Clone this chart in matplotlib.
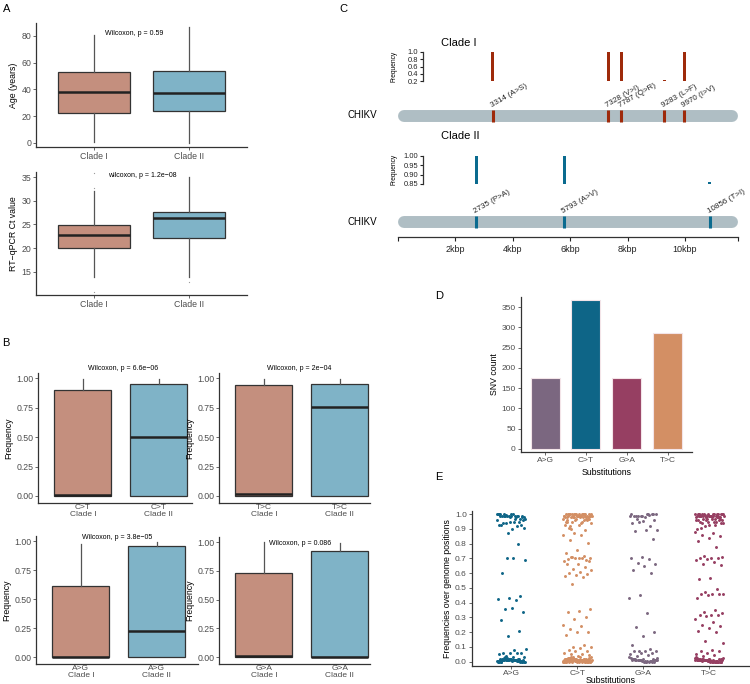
import matplotlib.pyplot as plt
import numpy as np

plt.rcParams['font.family'] = ['Liberation Sans', 'DejaVu Sans']

# ---------------- data ----------------
clades = ['Clade I', 'Clade II']
clade_colors = ['#c48f7e', '#7fb3c7']

# box stats: whisker low, q1, median, q3, whisker high
age_c1 = [0.5, 22.2, 38.3, 52.8, 80.6]
age_c2 = [0.0, 24.1, 37.3, 53.7, 87.0]
ct_c1 = [13.8, 20.0, 22.8, 24.8, 32.1]
ct_c2 = [13.8, 22.2, 26.4, 27.7, 35.0]
ct_c1_out = [35.8, 32.8, 10.8]
ct_c2_out = [12.8]

ct_sub_c1 = [0.0, 0.0, 0.01, 0.90, 0.99]
ct_sub_c2 = [0.0, 0.0, 0.50, 0.95, 0.99]
tc_sub_c1 = [0.0, 0.0, 0.015, 0.94, 0.99]
tc_sub_c2 = [0.0, 0.0, 0.755, 0.95, 0.99]
ag_sub_c1 = [0.0, 0.0, 0.0, 0.61, 0.98]
ag_sub_c2 = [0.0, 0.0, 0.225, 0.96, 0.99]
ga_sub_c1 = [0.0, 0.0, 0.01, 0.73, 1.0]
ga_sub_c2 = [0.0, 0.0, 0.005, 0.925, 0.99]

# genome (panel C)
genome_len = 11826
c1_pos = [3314, 7328, 7787, 9283, 9970]
c1_freq = [1.0, 1.0, 1.0, 0.22, 1.0]
c1_lab = ['3314 (A>S)', '7328 (V>I)', '7787 (Q>R)', '9283 (L>F)', '9970 (I>V)']
c2_pos = [2735, 5793, 10856]
c2_freq = [1.0, 1.0, 0.86]
c2_lab = ['2735 (P>A)', '5793 (A>V)', '10856 (T>I)']

# panel D
subs = ['A>G', 'C>T', 'G>A', 'T>C']
snv_count = [176, 367, 176, 285]
d_colors = ['#7b6780', '#0e6587', '#963f62', '#d38f64']
e_colors = ['#0e6587', '#d38f64', '#7b6780', '#963f62']

# panel E
ag_freq = [
    1.00, 0.99, 1.00, 0.99, 0.98, 1.00, 0.99, 0.995, 0.98, 1.00,
    0.99, 0.97, 0.99, 1.00, 0.98, 0.99, 0.96, 0.99, 1.00, 0.985,
    0.99, 0.97, 0.95, 0.94, 0.93, 0.945, 0.93, 0.92, 0.94, 0.91,
    0.90, 0.93, 0.95, 0.875, 0.96, 0.97, 0.99, 0.98, 1.00, 0.99,
    0.795, 0.705, 0.69, 0.70, 0.60, 0.445, 0.435, 0.425, 0.42, 0.36,
    0.34, 0.365, 0.28, 0.205, 0.175,
    0.087, 0.08, 0.06, 0.06, 0.062, 0.05, 0.058, 0.04, 0.035, 0.03,
    0.01, 0.00, 0.02, 0.005, 0.01, 0.015, 0.00, 0.02, 0.01, 0.005,
    0.025, 0.00, 0.01, 0.015, 0.005, 0.02, 0.00, 0.01, 0.03, 0.005,
    0.01, 0.00, 0.02, 0.015, 0.005, 0.01, 0.025, 0.00, 0.01, 0.02,
    0.005, 0.015, 0.00, 0.01, 0.02, 0.005, 0.01, 0.00, 0.015, 0.025,
    0.01, 0.005, 0.00, 0.02, 0.01,
]
ct_freq = [
    1.00, 0.99, 1.00, 0.98, 0.99, 1.00, 0.97, 0.99, 1.00, 0.98,
    0.99, 1.00, 0.96, 0.99, 1.00, 0.98, 0.99, 0.97, 1.00, 0.99,
    0.95, 0.98, 1.00, 0.99, 0.96, 1.00, 0.98, 0.99, 0.94, 1.00,
    0.99, 0.97, 0.98, 1.00, 0.95, 0.99, 0.93, 1.00, 0.98, 0.96,
    0.99, 1.00, 0.92, 0.97, 0.99, 0.95, 1.00, 0.98, 0.94, 0.99,
    0.91, 0.96, 1.00, 0.93, 0.98, 0.90, 0.97, 0.99, 0.95, 0.89,
    0.875, 0.86, 0.86, 0.825, 0.805,
    0.76, 0.735, 0.72, 0.71, 0.70, 0.70, 0.695, 0.69, 0.70, 0.685,
    0.705, 0.71, 0.68, 0.665, 0.66, 0.64, 0.63, 0.62, 0.61, 0.60,
    0.595, 0.59, 0.58, 0.575, 0.525,
    0.355, 0.345, 0.335, 0.30, 0.29, 0.25, 0.24, 0.225, 0.20, 0.20, 0.18,
    0.11, 0.10, 0.10, 0.09, 0.08, 0.075, 0.07, 0.06, 0.055, 0.05, 0.045, 0.04,
    0.01, 0.00, 0.02, 0.005, 0.01, 0.015, 0.00, 0.02, 0.01, 0.005,
    0.025, 0.00, 0.01, 0.015, 0.005, 0.02, 0.00, 0.01, 0.03, 0.005,
    0.01, 0.00, 0.02, 0.015, 0.005, 0.01, 0.025, 0.00, 0.01, 0.02,
    0.005, 0.015, 0.00, 0.01, 0.02, 0.005, 0.01, 0.00, 0.015, 0.025,
    0.01, 0.005, 0.00, 0.02, 0.01, 0.035, 0.00, 0.01, 0.02, 0.005,
    0.015, 0.00, 0.01, 0.025, 0.005, 0.02, 0.00, 0.01, 0.015, 0.03,
    0.00, 0.01, 0.005, 0.02, 0.01, 0.00, 0.015, 0.005, 0.025, 0.01,
    0.02, 0.00, 0.01, 0.005, 0.015, 0.00, 0.02, 0.01, 0.03, 0.005,
]
ga_freq = [
    1.00, 0.99, 1.00, 0.99, 1.00, 0.995, 0.99, 1.00, 0.98, 0.99,
    1.00, 0.99, 0.985, 1.00, 0.97, 0.96, 0.955, 0.94, 0.92, 0.95,
    0.89, 0.89, 0.885, 0.83,
    0.71, 0.70, 0.695, 0.67, 0.665, 0.65, 0.62, 0.60, 0.455, 0.435,
    0.33, 0.235, 0.20, 0.175, 0.11,
    0.085, 0.075, 0.075, 0.07, 0.07, 0.06, 0.06, 0.05, 0.045, 0.04,
    0.01, 0.00, 0.02, 0.005, 0.01, 0.015, 0.00, 0.02, 0.01, 0.005,
    0.025, 0.00, 0.01, 0.015, 0.005, 0.02, 0.00, 0.01, 0.03, 0.005,
    0.01, 0.00, 0.02, 0.015, 0.005, 0.01, 0.025, 0.00, 0.01, 0.02,
]
tc_freq = [
    1.00, 0.99, 1.00, 0.99, 0.98, 1.00, 0.99, 1.00, 0.98, 0.99,
    1.00, 0.99, 0.995, 1.00, 0.98, 0.99, 1.00, 0.99, 0.98, 1.00,
    0.99, 1.00, 0.985, 0.99, 1.00, 0.98, 0.99, 1.00, 0.99, 0.98,
    1.00, 0.99, 0.97, 1.00, 0.96, 0.99, 0.95, 0.98, 0.97, 0.96,
    0.95, 0.94, 0.97, 0.93, 0.96, 0.95, 0.92, 0.94, 0.97, 0.91,
    0.96, 0.95, 0.90, 0.93, 0.97, 0.94, 0.99, 1.00, 0.98, 0.96,
    0.88, 0.87, 0.86, 0.85, 0.84, 0.82, 0.78,
    0.715, 0.71, 0.70, 0.70, 0.70, 0.695, 0.69, 0.675, 0.665, 0.655,
    0.565, 0.56, 0.49, 0.475, 0.46, 0.46, 0.46, 0.46, 0.455, 0.435,
    0.35, 0.34, 0.33, 0.32, 0.32, 0.315, 0.31, 0.29, 0.27, 0.25,
    0.24, 0.23, 0.21, 0.20, 0.14, 0.13,
    0.08, 0.075, 0.07, 0.06, 0.05, 0.045, 0.04,
    0.01, 0.00, 0.02, 0.005, 0.01, 0.015, 0.00, 0.02, 0.01, 0.005,
    0.025, 0.00, 0.01, 0.015, 0.005, 0.02, 0.00, 0.01, 0.03, 0.005,
    0.01, 0.00, 0.02, 0.015, 0.005, 0.01, 0.025, 0.00, 0.01, 0.02,
    0.005, 0.015, 0.00, 0.01, 0.02, 0.005, 0.01, 0.00, 0.015, 0.025,
    0.01, 0.005, 0.00, 0.02, 0.01, 0.00, 0.01, 0.02, 0.005, 0.015,
    0.00, 0.01, 0.025, 0.005, 0.02, 0.00, 0.01, 0.015, 0.005, 0.01,
]

# ---------------- figure ----------------
W, H = 750, 684
fig = plt.figure(figsize=(W / 100, H / 100), dpi=100)

TICK = '#4d4d4d'
SPINE = '#333333'


def add_ax(l, t, r, b):
    # axes box given in pixel coords of the reference (top-left origin)
    return fig.add_axes([l / W, 1 - b / H, (r - l) / W, (b - t) / H])


def style(ax, size=6.3):
    for s in ['top', 'right']:
        ax.spines[s].set_visible(False)
    for s in ['left', 'bottom']:
        ax.spines[s].set_color(SPINE)
        ax.spines[s].set_linewidth(0.9)
    ax.tick_params(colors=TICK, labelsize=size, length=2, width=0.6, pad=1.5)


def boxes(ax, stats, fliers=None):
    fliers = fliers or [[], []]
    st = [dict(whislo=s[0], q1=s[1], med=s[2], q3=s[3], whishi=s[4], fliers=f)
          for s, f in zip(stats, fliers)]
    bp = ax.bxp(st, positions=[1, 2], widths=0.75, patch_artist=True, showcaps=False,
                boxprops=dict(edgecolor=SPINE, linewidth=0.9),
                medianprops=dict(color='#222222', linewidth=1.8),
                whiskerprops=dict(color='#555555', linewidth=0.9),
                flierprops=dict(marker='o', markersize=0.9, markerfacecolor='#999999',
                                markeredgecolor='none'))
    for patch, c in zip(bp['boxes'], clade_colors):
        patch.set_facecolor(c)


def panel_label(x, y, s):
    fig.text(x / W, 1 - y / H, s, fontsize=8, va='top', ha='left')


# ---- panel A ----
axA1 = add_ax(36, 23, 247, 147)
boxes(axA1, [age_c1, age_c2])
axA1.set_xlim(0.4, 2.6)
axA1.set_ylim(-3.0, 89.7)
axA1.set_yticks([0, 20, 40, 60, 80])
axA1.set_xticks([1, 2], clades)
axA1.set_ylabel('Age (years)', fontsize=6.3, labelpad=2)
style(axA1)
axA1.text(1.12, 81.5, 'Wilcoxon, p = 0.59', fontsize=5, va='center')

axA2 = add_ax(36, 172, 247, 295)
boxes(axA2, [ct_c1, ct_c2], [ct_c1_out, ct_c2_out])
axA2.set_xlim(0.4, 2.6)
axA2.set_ylim(10.07, 36.1)
axA2.set_yticks([15, 20, 25, 30, 35])
axA2.set_xticks([1, 2], clades)
axA2.set_ylabel('RT\u2212qPCR Ct value', fontsize=6.3, labelpad=2)
style(axA2)
axA2.text(1.15, 35.3, 'wilcoxon, p = 1.2e\u221208', fontsize=5, va='center')

# ---- panel B ----
b_panels = [
    ((38, 373, 192, 503), 'C>T', ct_sub_c1, ct_sub_c2, 'Wilcoxon, p = 6.6e\u221206', 1.07, 1.08),
    ((219, 373, 370, 503), 'T>C', tc_sub_c1, tc_sub_c2, 'Wilcoxon, p = 2e\u221204', 1.04, 1.08),
    ((36, 536, 198, 664), 'A>G', ag_sub_c1, ag_sub_c2, 'Wilcoxon, p = 3.8e\u221205', 1.01, 1.03),
    ((219, 537, 370, 664), 'G>A', ga_sub_c1, ga_sub_c2, 'Wilcoxon, p = 0.086', 1.07, 0.99),
]
for box, sub, s1, s2, ptxt, tx, ty in b_panels:
    ax = add_ax(*box)
    boxes(ax, [s1, s2])
    ax.set_xlim(0.41, 0.41 + (box[2] - box[0]) / 76)
    ax.set_ylim(-0.06, 1.045)
    ax.set_yticks([0, 0.25, 0.5, 0.75, 1.0], ['0.00', '0.25', '0.50', '0.75', '1.00'])
    ax.set_xticks([1, 2], [sub + '\n' + c for c in clades])
    ax.set_ylabel('Frequency', fontsize=6.3, labelpad=2)
    style(ax)
    ax.tick_params(axis='x', pad=0.5, length=0, labelsize=6)
    for lab in ax.get_xticklabels():
        lab.set_linespacing(1.02)
    ax.text(tx, ty, ptxt, fontsize=5, va='center', clip_on=False)

# ---- panel C ----
px0, px1 = 397.5, 737.5
bp_per_px = genome_len / (px1 - px0)

axG = add_ax(px0, 100, px1, 237)
axG.set_xlim(0, genome_len)
axG.set_ylim(237, 100)
for s in ['top', 'right', 'left']:
    axG.spines[s].set_visible(False)
axG.spines['bottom'].set_color(SPINE)
axG.spines['bottom'].set_linewidth(0.9)
axG.set_yticks([])
axG.set_xticks([0, 2000, 4000, 6000, 8000, 10000, genome_len],
               ['', '2kbp', '4kbp', '6kbp', '8kbp', '10kbp', ''])
axG.tick_params(axis='x', labelsize=6.5, colors='#222222', length=3, width=0.8, pad=3)

cap = 6 * bp_per_px
for yc, pos, lab, col, ylab in [(115.5, c1_pos, c1_lab, '#9e2a0b', 108.5),
                                (222.0, c2_pos, c2_lab, '#0b6b8f', 215.0)]:
    axG.plot([cap, genome_len - cap], [yc, yc], color='#afbec4', lw=8.6,
             solid_capstyle='round', zorder=1)
    axG.vlines(pos, yc - 6, yc + 6, color=col, lw=2.2, zorder=2)
    for p, t in zip(pos, lab):
        axG.text(p, ylab, t, rotation=30, rotation_mode='anchor', ha='left',
                 va='bottom', fontsize=5.8, color='#222222')
    axG.text(-20 * bp_per_px, yc, 'CHIKV', ha='right', va='center', fontsize=7,
             clip_on=False)

spine_x = (423 - px0) * bp_per_px
for (t, b), pos, freq, col, lo, ticks, tl, title_y in [
        ((52, 81), c1_pos, c1_freq, '#9e2a0b', 0.2, [0.2, 0.4, 0.6, 0.8, 1.0],
         ['0.2', '0.4', '0.6', '0.8', '1.0'], 43),
        ((155.7, 184), c2_pos, c2_freq, '#0b6b8f', 0.85, [0.85, 0.90, 0.95, 1.00],
         ['0.85', '0.90', '0.95', '1.00'], 136)]:
    axF = add_ax(px0, t, px1, b)
    axF.set_xlim(0, genome_len)
    axF.set_ylim(lo, 1.0)
    axF.bar(pos, np.array(freq) - lo, bottom=lo, width=3 * bp_per_px, color=col,
            clip_on=False)
    for s in ['top', 'right', 'bottom']:
        axF.spines[s].set_visible(False)
    axF.spines['left'].set_position(('data', spine_x))
    axF.spines['left'].set_color(SPINE)
    axF.spines['left'].set_linewidth(0.9)
    axF.set_xticks([])
    axF.set_yticks(ticks, tl)
    axF.tick_params(axis='y', labelsize=5.4, colors='#222222', length=2.5, width=0.8, pad=1)
    axF.patch.set_visible(False)
    fig.text(394 / W, 1 - (t + b) / 2 / H, 'Frequency', rotation=90, fontsize=4.8,
             ha='center', va='center')
    fig.text(441 / W, 1 - title_y / H, 'Clade I' if lo < 0.5 else 'Clade II',
             fontsize=8, va='center')

# ---- panel D ----
axD = add_ax(520.7, 297, 692, 451.7)
x = np.arange(1, len(subs) + 1)
axD.bar(x, snv_count, width=0.71, color=d_colors, edgecolor='#f3e4e8', linewidth=0.8)
axD.set_xlim(0.4, 4.6)
axD.set_ylim(-6.7, 374.7)
axD.set_yticks(range(0, 351, 50))
axD.set_xticks(x, subs)
axD.set_ylabel('SNV count', fontsize=6.3, labelpad=2)
axD.set_xlabel('Substitutions', fontsize=6.3, labelpad=3)
style(axD, 6)

# ---- panel E ----
axE = add_ax(471.7, 511, 750, 665.7)
for i, (vals, col) in enumerate(zip([ag_freq, ct_freq, ga_freq, tc_freq], e_colors)):
    n = len(vals)
    jit = ((np.arange(n) * 0.6180339887 + 0.31 * i) % 1 - 0.5) * 0.44
    axE.scatter(i + 1 + jit, vals, s=4.5, color=col, linewidths=0, zorder=2)
axE.set_xlim(0.4, 4.62)
axE.set_ylim(-0.027, 1.022)
axE.set_yticks(np.round(np.arange(0, 1.01, 0.1), 1),
               ['%.1f' % v for v in np.arange(0, 1.01, 0.1)])
axE.set_xticks(x, subs)
axE.set_ylabel('Frequencies over genome positions', fontsize=6.3, labelpad=2)
axE.set_xlabel('Substitutions', fontsize=6.3, labelpad=-0.5)
style(axE, 6)
axE.tick_params(axis='x', pad=1)

panel_label(3, 4, 'A')
panel_label(2, 338, 'B')
panel_label(339, 4, 'C')
panel_label(435, 291, 'D')
panel_label(435, 472, 'E')

fig.savefig('out.png', dpi=100)
